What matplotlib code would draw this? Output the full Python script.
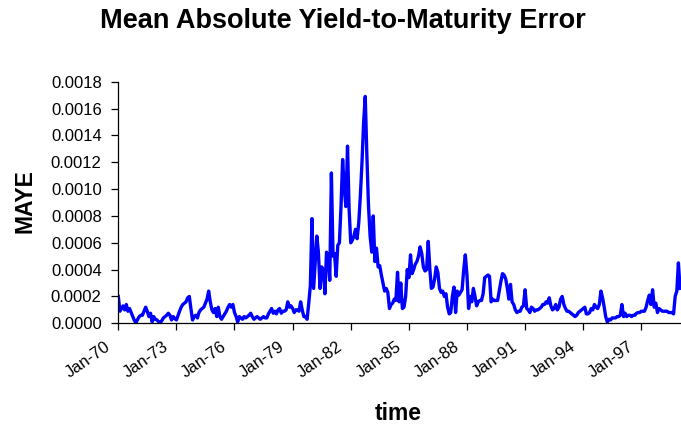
import matplotlib
matplotlib.use("Agg")
import matplotlib.pyplot as plt
import matplotlib.dates as mdates
import matplotlib.transforms as mtransforms
import pandas as pd
import numpy as np

plt.rcParams['font.family'] = ['Liberation Sans', 'DejaVu Sans']

start_month = "1970-01-01"
# Monthly MAYE values, in units of 1e-4 (Jan-70 ... Jan-99)
maye_1e4 = [
    # 1970
    2.0, 0.9, 1.1, 1.3, 1.0, 1.4, 0.9, 1.1, 0.8, 0.5, 0.2, 0.05,
    # 1971
    0.3, 0.5, 0.6, 0.6, 0.9, 1.2, 0.9, 0.5, 0.75, 0.1, 0.5, 0.3,
    # 1972
    0.25, 0.1, 0.05, 0.2, 0.4, 0.5, 0.6, 0.75, 0.6, 0.25, 0.5, 0.35,
    # 1973
    0.25, 0.6, 0.9, 1.2, 1.4, 1.5, 1.6, 1.9, 2.0, 1.1, 0.25, 0.5,
    # 1974
    0.6, 0.4, 0.8, 1.0, 1.1, 1.2, 1.5, 1.8, 2.4, 1.6, 1.0, 0.8,
    # 1975
    1.1, 0.5, 1.2, 0.5, 0.3, 0.5, 0.7, 0.9, 1.2, 1.4, 1.2, 1.4,
    # 1976
    0.8, 0.5, 0.1, 0.5, 0.4, 0.3, 0.5, 0.4, 0.5, 0.6, 0.75, 0.5,
    # 1977
    0.3, 0.4, 0.5, 0.4, 0.3, 0.4, 0.5, 0.4, 0.4, 0.7, 0.9, 1.1,
    # 1978
    0.75, 0.9, 0.7, 1.0, 1.1, 0.75, 0.9, 0.9, 1.0, 1.6, 1.2, 1.3,
    # 1979
    1.1, 0.8, 1.0, 1.0, 0.9, 1.6, 1.0, 0.5, 0.5, 0.3, 1.5, 2.8,
    # 1980
    7.8, 2.6, 4.5, 6.5, 5.3, 2.6, 4.2, 4.0, 2.2, 5.3, 5.0, 3.2,
    # 1981
    11.2, 5.0, 5.2, 3.5, 5.8, 6.0, 8.7, 12.2, 10.0, 8.7, 13.2, 8.5,
    # 1982
    6.0, 6.2, 6.5, 7.0, 6.3, 7.5, 9.5, 12.0, 15.0, 16.9, 12.5, 8.8,
    # 1983
    6.5, 5.3, 8.0, 4.6, 5.6, 4.2, 4.3, 3.6, 3.0, 2.4, 2.6, 2.3,
    # 1984
    1.1, 1.4, 1.5, 1.8, 1.7, 3.8, 1.6, 3.0, 1.1, 1.2, 2.0, 4.0,
    # 1985
    3.4, 5.1, 3.7, 4.0, 4.4, 4.6, 5.0, 5.7, 5.2, 4.2, 3.9, 4.0,
    # 1986
    6.1, 4.0, 2.6, 2.7, 3.3, 4.2, 3.8, 2.6, 2.3, 2.4, 2.0, 2.2,
    # 1987
    1.2, 0.7, 0.8, 2.0, 2.7, 0.8, 2.4, 2.1, 2.3, 2.5, 4.0, 5.1,
    # 1988
    3.6, 1.1, 2.0, 1.6, 2.6, 2.0, 1.3, 1.6, 1.7, 1.7, 2.2, 3.4,
    # 1989
    3.5, 3.6, 3.5, 1.6, 1.8, 1.7, 1.7, 1.7, 2.4, 3.1, 3.7, 3.6,
    # 1990
    3.3, 2.6, 1.8, 2.9, 1.6, 1.4, 1.0, 0.8, 0.9, 0.9, 1.2, 1.3,
    # 1991
    2.5, 1.1, 1.0, 0.8, 1.2, 1.1, 0.9, 1.0, 1.0, 1.1, 1.2, 1.4,
    # 1992
    1.4, 1.6, 1.5, 1.9, 1.3, 1.0, 1.1, 1.4, 1.0, 1.2, 1.8, 2.0,
    # 1993
    1.4, 1.1, 0.9, 0.9, 0.8, 0.7, 0.6, 0.5, 0.6, 0.8, 0.9, 1.0,
    # 1994
    1.1, 1.2, 0.7, 0.7, 0.8, 1.1, 1.0, 1.4, 1.2, 1.1, 1.4, 2.4,
    # 1995
    1.9, 1.2, 0.5, 0.1, 0.3, 0.25, 0.4, 0.4, 0.4, 0.5, 0.5, 0.6,
    # 1996
    1.4, 0.5, 0.75, 0.5, 0.6, 0.6, 0.5, 0.6, 0.6, 0.75, 0.8, 0.8,
    # 1997
    0.9, 0.9, 0.9, 1.2, 1.7, 2.1, 1.4, 2.5, 1.2, 1.5, 0.8, 1.1,
    # 1998
    1.0, 0.9, 0.9, 0.9, 0.9, 0.8, 0.8, 0.8, 0.7, 2.0, 2.4, 4.5,
    # 1999
    2.6,
]

y_ticks = [0.0000, 0.0002, 0.0004, 0.0006, 0.0008, 0.0010, 0.0012, 0.0014, 0.0016, 0.0018]
title = "Mean Absolute Yield-to-Maturity Error"
xlabel = "time"
ylabel = "MAYE"

dates = pd.date_range(start_month, periods=len(maye_1e4), freq="MS")
values = np.array(maye_1e4) * 1e-4

fig = plt.figure(figsize=(6.81, 4.29), dpi=100)
ax = fig.add_axes([118.3 / 681, 1 - 323.3 / 429, 1 - 118.3 / 681, (323.3 - 81.7) / 429])

ax.plot(dates, values, color="#0000FF", linewidth=2.4, solid_joinstyle="round")

ax.set_ylim(0, 0.0018)
ax.set_yticks(y_ticks)
ax.yaxis.set_major_formatter(matplotlib.ticker.FormatStrFormatter("%.4f"))

x0 = mdates.date2num(pd.Timestamp(start_month))
x1 = mdates.date2num(pd.Timestamp("1999-01-19"))
ax.set_xlim(x0, x1)
tick_dates = pd.date_range("1970-01-01", "1997-01-01", freq="36MS")
ax.set_xticks(tick_dates)
ax.xaxis.set_major_formatter(mdates.DateFormatter("%b-%y"))

for s in ["top", "right"]:
    ax.spines[s].set_visible(False)
for s in ["left", "bottom"]:
    ax.spines[s].set_linewidth(0.9)
    ax.spines[s].set_color("black")

ax.tick_params(axis="y", direction="out", length=5, width=0.9, labelsize=12, pad=7)
ax.tick_params(axis="x", direction="out", length=5, width=0.9, labelsize=12, pad=6)

offset = mtransforms.ScaledTranslation(-5 / 100, 0, fig.dpi_scale_trans)
for lbl in ax.get_xticklabels():
    lbl.set_rotation(35)
    lbl.set_ha("right")
    lbl.set_va("top")
    lbl.set_transform(lbl.get_transform() + offset)

fig.text(0.504, 1 - 21 / 429, title, ha="center", va="center", fontsize=19.5, fontweight="bold")
fig.text(25 / 681, 1 - 201 / 429, ylabel, ha="center", va="center", rotation=90, fontsize=16.5, fontweight="bold")
fig.text(398 / 681, 1 - 413 / 429, xlabel, ha="center", va="center", fontsize=16.5, fontweight="bold")

fig.savefig("out.png", dpi=100)
